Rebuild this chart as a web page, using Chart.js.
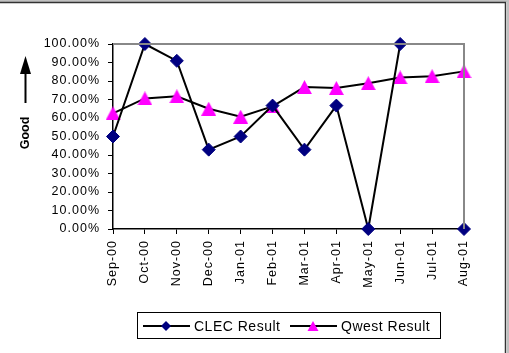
<html>
<head>
    <script src="https://cdn.jsdelivr.net/npm/chart.js@4.2.0/dist/chart.umd.min.js"></script>
    <style>
        body { margin: 0; background: #fff; }
    </style>
</head>
<body>
<canvas id="myChart" width="509" height="353"></canvas>
<script>
// Data
const months = ["Sep-00", "Oct-00", "Nov-00", "Dec-00", "Jan-01", "Feb-01", "Mar-01", "Apr-01", "May-01", "Jun-01", "Jul-01", "Aug-01"];
const clecResult = [0.50, 1.00, 0.909, 0.429, 0.50, 0.667, 0.429, 0.667, 0.00, 1.00, null, 0.00];
const qwestResult = [0.625, 0.706, 0.717, 0.65, 0.607, 0.663, 0.767, 0.762, 0.788, 0.819, 0.826, 0.852];

const FONT = "Arial, 'Liberation Sans', sans-serif";

// triangle marker centred on its box, like the original
function triangleImage(w, h, color) {
    const cv = document.createElement("canvas");
    cv.width = w;
    cv.height = h;
    const t = cv.getContext("2d");
    t.fillStyle = color;
    t.beginPath();
    t.moveTo(w / 2, 0);
    t.lineTo(w, h);
    t.lineTo(0, h);
    t.closePath();
    t.fill();
    return cv;
}
const qwestMarker = triangleImage(15, 14, "#ff00ff");

function drawMarker(c, style, x, y, r) {
    c.beginPath();
    if (style === "diamond") {
        c.moveTo(x, y - r);
        c.lineTo(x + r, y);
        c.lineTo(x, y + r);
        c.lineTo(x - r, y);
    } else {
        c.moveTo(x, y - r);
        c.lineTo(x + r * 1.1, y + r);
        c.lineTo(x - r * 1.1, y + r);
    }
    c.closePath();
    c.fill();
}

// the original's text is a bit wider than Arial
const spacing = {
    id: "spacing",
    beforeDraw(chart) {
        chart.ctx.letterSpacing = "1px";
    }
};

// Frame, plot box, "Good" arrow and legend
const decorations = {
    id: "decorations",
    afterDraw(chart) {
        const c = chart.ctx;
        const a = chart.chartArea;
        c.save();
        c.letterSpacing = "0px";
        // outer frame (top and right only)
        c.fillStyle = "#c0c0c0";
        c.fillRect(0, 0, 509, 2);
        c.fillRect(507, 0, 2, 353);
        c.strokeStyle = "#333";
        c.lineWidth = 1.5;
        c.beginPath();
        c.moveTo(0, 2.5);
        c.lineTo(505.5, 2.5);
        c.lineTo(505.5, 353);
        c.stroke();

        // plot area top/right border
        c.strokeStyle = "#888";
        c.lineWidth = 2;
        c.beginPath();
        c.moveTo(a.left, a.top);
        c.lineTo(a.right, a.top);
        c.lineTo(a.right, a.bottom);
        c.stroke();

        // arrow and "Good"
        c.fillStyle = "#000";
        c.strokeStyle = "#000";
        c.lineWidth = 2;
        c.beginPath();
        c.moveTo(25.5, 103);
        c.lineTo(25.5, 70);
        c.stroke();
        c.beginPath();
        c.moveTo(25.5, 56);
        c.lineTo(20, 74);
        c.lineTo(31, 74);
        c.closePath();
        c.fill();

        c.translate(26, 133);
        c.rotate(-Math.PI / 2);
        c.font = "bold 12.5px " + FONT;
        c.textAlign = "center";
        c.textBaseline = "middle";
        c.fillText("Good", 0, 0);
        c.restore();

        // legend
        c.save();
        c.letterSpacing = "0.5px";
        c.strokeStyle = "#000";
        c.lineWidth = 1;
        c.strokeRect(137.5, 312.5, 303, 26);
        const items = [
            { x: 143, label: "CLEC Result", marker: "diamond", size: 5, color: "#000080" },
            { x: 290, label: "Qwest Result", marker: "triangle", size: 5, color: "#ff00ff" }
        ];
        const ly = 326;
        items.forEach(it => {
            c.strokeStyle = "#000";
            c.lineWidth = 2;
            c.beginPath();
            c.moveTo(it.x, ly);
            c.lineTo(it.x + 47, ly);
            c.stroke();
            c.fillStyle = it.color;
            drawMarker(c, it.marker, it.x + 23, ly, it.size);
            c.fillStyle = "#000";
            c.font = "14px " + FONT;
            c.textAlign = "left";
            c.textBaseline = "middle";
            c.fillText(it.label, it.x + 51, ly + 1);
        });
        c.restore();
    }
};

const ctx = document.getElementById("myChart").getContext("2d");
const chart = new Chart(ctx, {
    type: "line",
    data: {
        labels: months,
        datasets: [
            {
                label: "CLEC Result",
                data: clecResult,
                borderColor: "#000",
                borderWidth: 2,
                pointStyle: "rectRot",
                pointRadius: 6.5,
                pointBackgroundColor: "#000080",
                pointBorderColor: "#000080",
                pointBorderWidth: 1,
                spanGaps: false,
                clip: false,
                fill: false,
                tension: 0
            },
            {
                label: "Qwest Result",
                data: qwestResult,
                borderColor: "#000",
                borderWidth: 2,
                pointStyle: qwestMarker,
                pointRadius: 7.5,
                clip: false,
                fill: false,
                tension: 0
            }
        ]
    },
    options: {
        responsive: false,
        animation: false,
        layout: { padding: { top: 44, right: 45, left: 0, bottom: 0 } },
        plugins: {
            legend: { display: false },
            tooltip: { enabled: false }
        },
        scales: {
            x: {
                offset: false,
                afterFit: s => { s.height = 124; },
                grid: {
                    drawOnChartArea: false,
                    offset: false,
                    tickLength: 5,
                    color: "#000"
                },
                border: { color: "#000", width: 1.5 },
                ticks: {
                    autoSkip: false,
                    maxRotation: 90,
                    minRotation: 90,
                    padding: 6,
                    color: "#000",
                    font: { family: FONT, size: 12.5 }
                }
            },
            y: {
                min: 0,
                max: 1,
                afterFit: s => { s.width = 113; },
                grid: {
                    drawOnChartArea: false,
                    tickLength: 5,
                    color: "#000"
                },
                border: { color: "#000", width: 1.5 },
                ticks: {
                    stepSize: 0.1,
                    padding: 8,
                    color: "#000",
                    font: { family: FONT, size: 12.5 },
                    callback: v => (v * 100).toFixed(2) + "%"
                }
            }
        }
    },
    plugins: [spacing, decorations]
});
</script>
</body>
</html>
